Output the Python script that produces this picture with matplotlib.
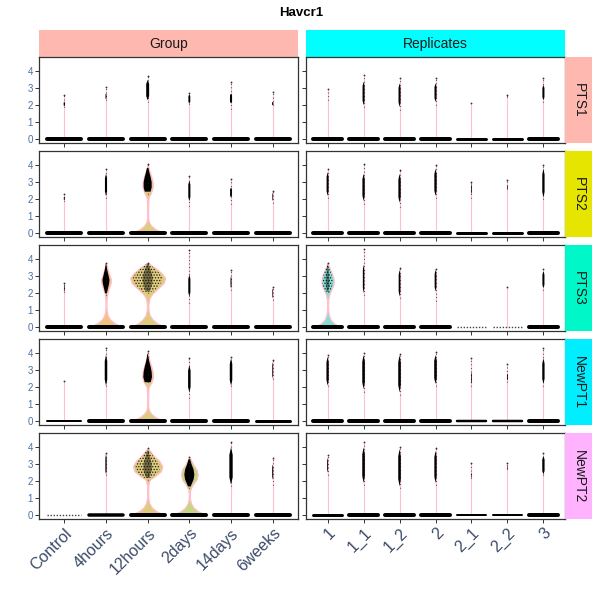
import matplotlib.pyplot as plt
import numpy as np
from matplotlib.patches import Polygon

plt.rcParams["font.family"] = ["Liberation Sans", "DejaVu Sans"]

clusters = ["PTS1", "PTS2", "PTS3", "NewPT1", "NewPT2"]
group_cats = ["Control", "4hours", "12hours", "2days", "14days", "6weeks"]
rep_cats = ["1", "1_1", "1_2", "2", "2_1", "2_2", "3"]

# highest expression value per cluster / category (0 = no expressing cell)
group_top = [
    [2.6, 3.05, 3.75, 2.75, 3.4, 2.8],
    [2.3, 3.8, 4.1, 3.4, 3.2, 2.5],
    [2.6, 3.8, 3.8, 4.57, 3.35, 2.4],
    [2.4, 4.3, 4.15, 3.7, 3.8, 3.6],
    [0.0, 3.65, 3.95, 3.45, 4.3, 3.35],
]
rep_top = [
    [2.95, 3.8, 3.6, 3.6, 2.15, 2.6, 3.6],
    [3.8, 4.1, 3.75, 4.05, 3.0, 3.15, 4.05],
    [3.8, 4.6, 3.5, 3.45, 0.0, 2.4, 3.45],
    [3.9, 4.0, 3.95, 4.1, 3.7, 3.4, 4.3],
    [3.55, 4.3, 4.0, 3.95, 3.1, 3.05, 3.65],
]
# lowest non-zero value
group_low = [
    [1.9, 2.3, 2.2, 2.1, 1.8, 2.0],
    [1.9, 2.1, 2.3, 1.6, 1.7, 1.8],
    [2.1, 1.9, 2.0, 1.45, 2.2, 1.6],
    [2.4, 2.1, 2.3, 1.35, 2.1, 2.5],
    [0.0, 2.4, 2.1, 1.6, 1.7, 1.8],
]
rep_low = [
    [2.3, 1.9, 1.75, 2.0, 0.0, 2.5, 2.2],
    [2.1, 1.7, 1.55, 2.1, 2.1, 2.6, 2.0],
    [2.1, 1.9, 1.7, 1.55, 0.0, 0.0, 2.2],
    [2.1, 1.75, 1.55, 2.1, 2.1, 2.3, 2.1],
    [2.4, 1.8, 1.6, 1.8, 2.2, 2.7, 2.4],
]
# dense part of the expressing cells: range and jitter half-width
group_core_lo = [
    [1.95, 2.35, 2.3, 2.1, 2.1, 2.0],
    [1.95, 2.2, 2.45, 1.9, 2.1, 1.9],
    [2.1, 2.0, 2.1, 1.8, 2.3, 1.7],
    [0.0, 2.1, 2.3, 1.7, 2.1, 2.5],
    [0.0, 2.4, 2.2, 1.7, 1.8, 2.1],
]
group_core_hi = [
    [2.2, 2.7, 3.5, 2.65, 2.7, 2.2],
    [2.15, 3.5, 3.85, 3.1, 2.7, 2.4],
    [2.5, 3.75, 3.75, 3.1, 3.0, 2.3],
    [0.0, 3.9, 3.95, 3.3, 3.7, 3.5],
    [0.0, 3.6, 3.8, 3.3, 4.0, 3.0],
]
group_core_w = [
    [0.015, 0.012, 0.035, 0.022, 0.025, 0.015],
    [0.012, 0.025, 0.0, 0.025, 0.022, 0.008],
    [0.008, 0.0, 0.0, 0.025, 0.012, 0.008],
    [0.0, 0.03, 0.0, 0.03, 0.03, 0.01],
    [0.0, 0.015, 0.0, 0.0, 0.04, 0.012],
]
rep_core_lo = [
    [2.3, 2.0, 1.9, 2.2, 0.0, 2.5, 2.3],
    [2.2, 1.9, 1.8, 2.2, 2.3, 2.6, 2.1],
    [2.1, 2.0, 1.8, 2.1, 0.0, 0.0, 2.3],
    [2.1, 1.9, 1.7, 2.2, 2.2, 2.4, 2.2],
    [2.5, 1.9, 1.7, 1.9, 2.2, 2.7, 2.4],
]
rep_core_hi = [
    [2.3, 3.4, 3.3, 3.3, 0.0, 2.55, 3.2],
    [3.6, 3.5, 3.5, 3.8, 2.9, 2.8, 3.8],
    [3.7, 3.7, 3.4, 3.4, 0.0, 0.0, 3.3],
    [3.8, 3.9, 3.9, 3.9, 2.9, 2.8, 3.7],
    [3.4, 4.0, 3.9, 3.8, 2.5, 2.9, 3.5],
]
rep_core_w = [
    [0.0, 0.028, 0.028, 0.028, 0.0, 0.008, 0.028],
    [0.028, 0.032, 0.032, 0.032, 0.01, 0.01, 0.032],
    [0.0, 0.02, 0.024, 0.024, 0.0, 0.0, 0.028],
    [0.032, 0.036, 0.036, 0.036, 0.01, 0.012, 0.032],
    [0.012, 0.036, 0.036, 0.032, 0.008, 0.008, 0.032],
]
# thickness (px) of the band of zero-expression cells, 0 = sparse
group_zero = [
    [4, 4, 4, 4, 4, 4],
    [4, 4, 4, 4, 4, 4],
    [4, 4, 4, 4, 4, 4],
    [2, 4, 4, 4, 4, 3],
    [0, 3.5, 4, 4, 4, 4],
]
rep_zero = [
    [4, 4, 4, 4, 3, 3, 4],
    [4, 4, 4, 4, 3, 3, 4],
    [4, 4, 4, 4, 0, 0, 4],
    [4, 4, 4, 4, 2.5, 2.5, 4],
    [3, 4, 4, 4, 2, 2, 4],
]

# violins wide enough to be seen: facet, cluster row, category index, outline
violin_facet = ["group", "group", "group", "rep", "group", "group", "group"]
violin_row = [1, 2, 2, 2, 3, 4, 4]
violin_cat = [2, 1, 2, 0, 2, 2, 3]
violin_fill = ["#DECB7C", "#F2C27E", "#DECB7C", "#80DED3", "#DECB7C", "#DECB7C", "#C6D580"]
violin_dots = [False, False, True, True, False, True, False]
violin_core_frac = [0.8, 0.7, 0.85, 0.85, 0.8, 0.85, 0.6]
violin_y = [
    [0, 0.1, 0.25, 0.45, 0.65, 0.9, 1.5, 2.1, 2.4, 2.7, 3.0, 3.3, 3.6, 3.9, 4.1],
    [0, 0.1, 0.25, 0.45, 0.7, 1.0, 1.3, 1.7, 2.0, 2.3, 2.6, 2.8, 3.1, 3.4, 3.8],
    [0, 0.1, 0.25, 0.45, 0.7, 1.0, 1.3, 1.6, 1.8, 2.0, 2.3, 2.6, 2.9, 3.2, 3.5, 3.8],
    [0, 0.1, 0.25, 0.45, 0.7, 1.0, 1.3, 1.6, 1.9, 2.2, 2.5, 2.8, 3.1, 3.4, 3.8],
    [0, 0.1, 0.25, 0.45, 0.65, 0.9, 1.5, 2.0, 2.3, 2.6, 2.9, 3.2, 3.5, 3.8, 4.15],
    [0, 0.1, 0.25, 0.45, 0.7, 1.0, 1.4, 1.8, 2.1, 2.3, 2.6, 2.9, 3.2, 3.5, 3.95],
    [0, 0.1, 0.25, 0.45, 0.7, 0.95, 1.2, 1.5, 1.8, 2.1, 2.4, 2.7, 3.0, 3.45],
]
violin_w = [
    [0.42, 0.3, 0.18, 0.08, 0.03, 0.01, 0.01, 0.02, 0.08, 0.12, 0.12, 0.09, 0.05, 0.015, 0.0],
    [0.43, 0.32, 0.2, 0.1, 0.04, 0.015, 0.01, 0.015, 0.03, 0.07, 0.11, 0.12, 0.08, 0.04, 0.0],
    [0.43, 0.33, 0.22, 0.12, 0.05, 0.02, 0.015, 0.03, 0.06, 0.12, 0.25, 0.38, 0.42, 0.33, 0.18, 0.0],
    [0.40, 0.28, 0.17, 0.08, 0.035, 0.015, 0.01, 0.015, 0.04, 0.1, 0.16, 0.17, 0.13, 0.07, 0.0],
    [0.42, 0.3, 0.18, 0.08, 0.03, 0.01, 0.01, 0.02, 0.09, 0.13, 0.12, 0.09, 0.05, 0.02, 0.0],
    [0.43, 0.32, 0.2, 0.1, 0.04, 0.015, 0.01, 0.015, 0.05, 0.17, 0.32, 0.35, 0.28, 0.15, 0.0],
    [0.43, 0.32, 0.2, 0.1, 0.04, 0.015, 0.01, 0.02, 0.08, 0.17, 0.2, 0.17, 0.09, 0.0],
]

col_strip_colors = ["#FFB8B0", "#00FFFF"]
row_strip_colors = ["#FFB8B0", "#E5E500", "#00F7C8", "#00EEFF", "#FFB3FF"]
PINK = "#FFBFCB"
YTICK_COLOR = "#4A6FA0"
XTICK_COLOR = "#3B4B68"

W, H = 600, 600


def rect(x0, y0, x1, y1):
    return [x0 / W, 1 - y1 / H, (x1 - x0) / W, (y1 - y0) / H]


def draw_core(ax, x, lo, hi, w):
    if w <= 0 or hi <= lo:
        return
    d = 0.2 * (hi - lo)
    xs = [x, x + w, x + w, x, x - w, x - w]
    ys = [lo, lo + d, hi - d, hi, hi - d, lo + d]
    ax.add_patch(Polygon(np.column_stack([xs, ys]), closed=True, fc="black",
                         lw=0, zorder=4))


def draw_cell(ax, x, top, low, clo, chi, cw, zero):
    if top > 0:
        ax.plot([x, x], [0, top], color=PINK, lw=0.8, zorder=1)
        ax.plot([x], [top], marker="o", ms=1.3, color="#333333", mew=0, zorder=4)
    if low > 0:
        ax.plot([x, x], [low, top], color="#222222", lw=0.8, ls=(0, (0.6, 2.6)), zorder=3.5)
    draw_core(ax, x, clo, chi, cw)
    if zero > 0:
        ax.plot([x - 0.41, x + 0.41], [0, 0], color="black", lw=zero * 0.72,
                solid_capstyle="round", zorder=5)
    else:
        ax.plot([x - 0.41, x + 0.41], [0, 0], color="#444444", lw=1.0,
                ls=(0, (1.0, 1.2)), zorder=5)


def draw_violin(ax, k):
    x = violin_cat[k] + 1
    vy = np.array(violin_y[k], dtype=float)
    vw = np.array(violin_w[k], dtype=float)
    ax.fill_betweenx(vy, x - vw, x + vw, facecolor=violin_fill[k], edgecolor=PINK,
                     lw=0.9, zorder=2)
    r = violin_row[k]
    if violin_facet[k] == "group":
        lo, hi = group_core_lo[r][violin_cat[k]], group_core_hi[r][violin_cat[k]]
    else:
        lo, hi = rep_core_lo[r][violin_cat[k]], rep_core_hi[r][violin_cat[k]]
    yy = np.linspace(lo, hi, 40)
    ww = np.interp(yy, vy, vw) * violin_core_frac[k]
    if violin_dots[k]:
        ax.fill_betweenx(yy, x - ww, x + ww, facecolor="none",
                         edgecolor="#1A1A1A", lw=0, hatch="......", zorder=3)
        ax.fill_betweenx(yy, x - ww * 0.35, x + ww * 0.35, facecolor="black",
                         alpha=0.45, lw=0, zorder=3)
    else:
        ax.fill_betweenx(yy, x - ww, x + ww, facecolor="black", lw=0, zorder=3)


fig = plt.figure(figsize=(6, 6), dpi=100)
plt.rcParams["hatch.linewidth"] = 0.6

facets = [
    ("Group", group_cats, (39.3, 297.7), group_top, group_low, group_core_lo,
     group_core_hi, group_core_w, group_zero, "group"),
    ("Replicates", rep_cats, (306, 565), rep_top, rep_low, rep_core_lo,
     rep_core_hi, rep_core_w, rep_zero, "rep"),
]

for fi, (fname, cats, (x0, x1), top, low, clo, chi, cw, zero, key) in enumerate(facets):
    sax = fig.add_axes(rect(x0, 30, x1, 57.3))
    sax.set_facecolor(col_strip_colors[fi])
    sax.set_xticks([])
    sax.set_yticks([])
    for s in sax.spines.values():
        s.set_visible(False)
    sax.text(0.5, 0.5, fname, ha="center", va="center", fontsize=10,
             color="#1A1A1A", transform=sax.transAxes)

    for r, cl in enumerate(clusters):
        ty = 57.3 + 94 * r
        ax = fig.add_axes(rect(x0, ty, x1, ty + 86))
        n = len(cats)
        for i in range(n):
            draw_cell(ax, i + 1, top[r][i], low[r][i], clo[r][i], chi[r][i],
                      cw[r][i], zero[r][i])
        for k in range(len(violin_facet)):
            if violin_facet[k] == key and violin_row[k] == r:
                draw_violin(ax, k)
        ax.set_xlim(0.4, n + 0.6)
        ax.set_ylim(-0.24, 4.83)
        ax.set_xticks(np.arange(1, n + 1))
        ax.set_yticks([0, 1, 2, 3, 4])
        ax.tick_params(length=3, width=0.7, color="#333333", pad=1.5)
        for s in ax.spines.values():
            s.set_color("#333333")
            s.set_linewidth(0.9)
        if fi == 0:
            ax.tick_params(axis="y", labelsize=7, labelcolor=YTICK_COLOR)
        else:
            ax.set_yticklabels([])
        if r == len(clusters) - 1:
            ax.set_xticklabels(cats, rotation=45, ha="right", va="top",
                               rotation_mode="anchor", fontsize=11.5, color=XTICK_COLOR)
        else:
            ax.set_xticklabels([])

        if fi == 1:
            rax = fig.add_axes(rect(565, ty, 592, ty + 86))
            rax.set_facecolor(row_strip_colors[r])
            rax.set_xticks([])
            rax.set_yticks([])
            for s in rax.spines.values():
                s.set_visible(False)
            rax.text(0.5, 0.5, cl, ha="center", va="center", rotation=-90,
                     fontsize=10, color="#1A1A1A", transform=rax.transAxes)

fig.text(301 / W, 1 - 13 / H, "Havcr1", ha="center", va="center",
         fontsize=9.5, fontweight="bold")

fig.savefig("out.png", dpi=100)
